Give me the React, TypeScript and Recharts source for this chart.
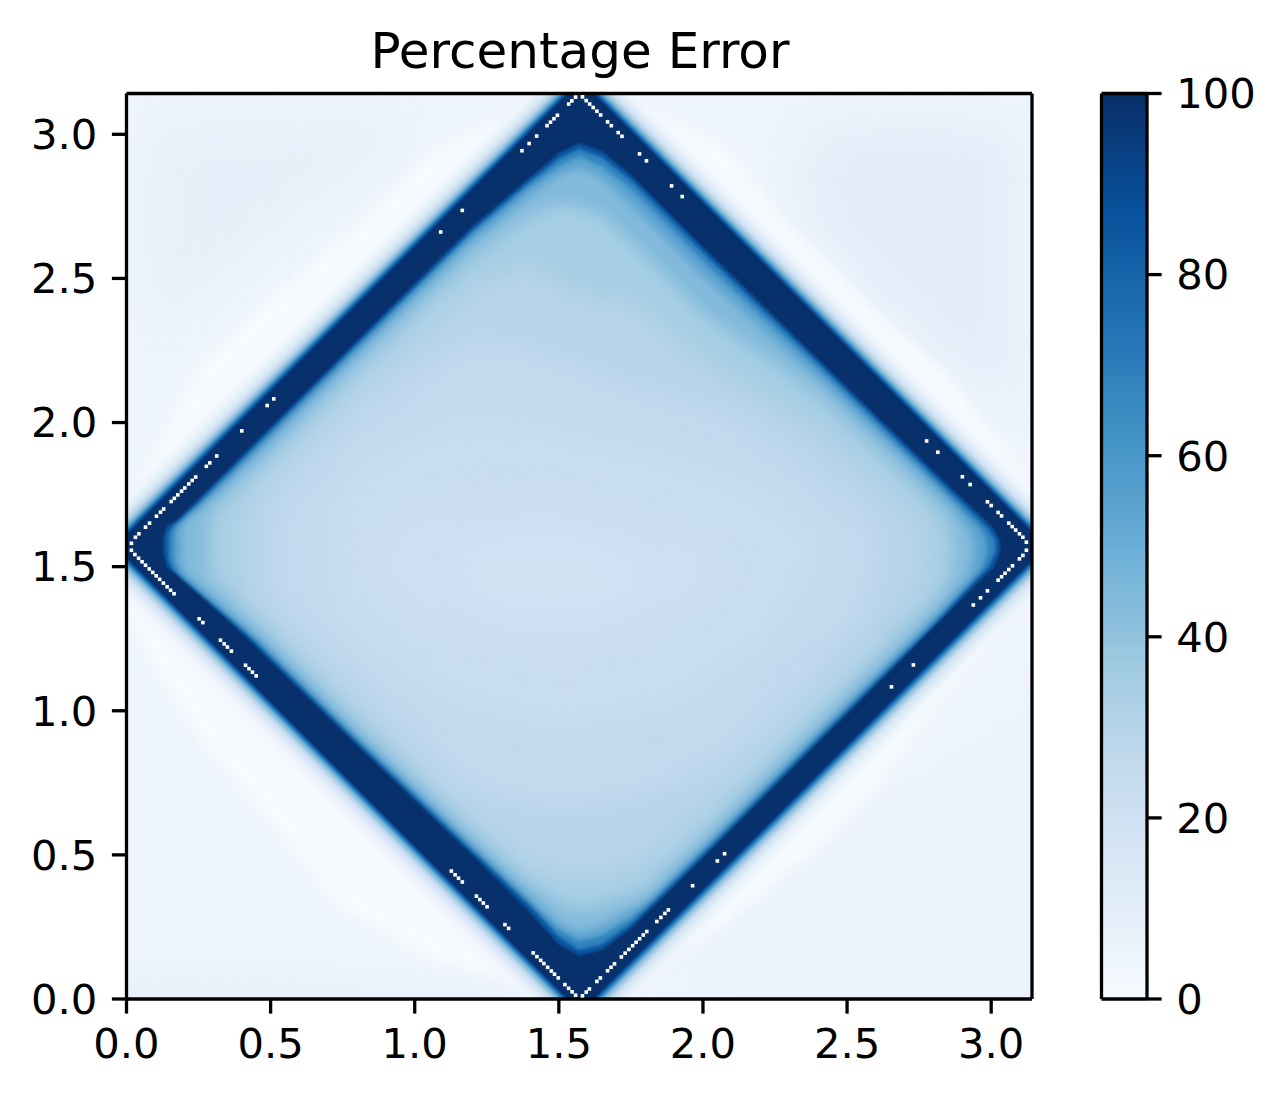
import React from 'react';
import { ComposedChart, Area, Scatter, XAxis, YAxis } from 'recharts';

const PI = 3.1416;
const FONT = '"DejaVu Sans", sans-serif';
const AXIS_TICKS = [0, 0.5, 1, 1.5, 2, 2.5, 3];
const BAR_TICKS = [0, 20, 40, 60, 80, 100];

// Field base and tinted corners: [x, low, high]
const fieldBase = [[0, 0, PI], [PI, 0, PI]];
const cornerTopLeft = [[0.08, 2.3, 3.05], [0.5, 2.65, 3.05], [0.95, 2.98, 3.07]];
const cornerTopRight = [[2.35, 2.7, 3.02], [2.8, 2.25, 3.05], [3.1, 2.05, 3.0]];
const cornerBottomRight = [[2.0, -0.3, 0.2], [2.6, -0.3, 0.62], [3.5, -0.3, 1.2]];
const cornerBottomLeft = [[-0.3, -0.3, 0.12], [0.7, -0.3, 0.1], [1.3, -0.3, 0.03]];

// Near-zero ridge that surrounds the diamond
const ridge = [[0, 1.35, 1.7], [0.08, 1.18, 1.86], [0.26, 0.9, 2.2], [0.49, 0.63, 2.42], [0.74, 0.32, 2.63], [1.06, 0.14, 2.94], [1.36, 0.06, 3.08], [1.57, 0.02, 3.13], [1.68, 0.03, 3.11], [1.85, 0.12, 3.07], [2.08, 0.26, 2.95], [2.26, 0.42, 2.72], [2.43, 0.55, 2.56], [2.6, 0.74, 2.38], [2.83, 1.05, 2.18], [3.0, 1.25, 1.97], [3.1416, 1.48, 1.78]];

// Outer edge of the band, one contour per error level
const outer5 = [[0, 1.391, 1.751], [1.391, 0, PI], [1.761, 0, PI], [PI, 1.381, 1.761]];
const outer9 = [[0, 1.421, 1.721], [1.421, 0, PI], [1.731, 0, PI], [PI, 1.411, 1.731]];
const outer15 = [[0, 1.446, 1.696], [1.446, 0, PI], [1.706, 0, PI], [PI, 1.436, 1.706]];
const outer25 = [[0, 1.466, 1.676], [1.466, 0, PI], [1.686, 0, PI], [PI, 1.456, 1.686]];
const outer37 = [[0, 1.481, 1.661], [1.481, 0, PI], [1.671, 0, PI], [PI, 1.471, 1.671]];
const outer50 = [[0, 1.496, 1.646], [1.496, 0, PI], [1.656, 0, PI], [PI, 1.486, 1.656]];
const outer62 = [[0, 1.506, 1.636], [1.506, 0, PI], [1.646, 0, PI], [PI, 1.496, 1.646]];
const outer75 = [[0, 1.515, 1.627], [1.515, 0, PI], [1.637, 0, PI], [PI, 1.505, 1.637]];
const outer88 = [[0, 1.523, 1.619], [1.523, 0, PI], [1.629, 0, PI], [PI, 1.513, 1.629]];
const outer100 = [[0, 1.531, 1.611], [1.531, 0, PI], [1.621, 0, PI], [PI, 1.521, 1.621]];

// Inner contours, falling towards the centre of the diamond
const inner92 = [[0.128, 1.55, 1.6], [0.14, 1.5, 1.64], [0.18, 1.47, 1.665], [0.4, 1.27, 1.886], [0.8, 0.88, 2.285], [1.2, 0.5, 2.68], [1.4, 0.3, 2.85], [1.5, 0.19, 2.935], [1.57, 0.15, 2.97], [1.65, 0.17, 2.94], [1.75, 0.245, 2.86], [2.0, 0.49, 2.61], [2.4, 0.89, 2.22], [2.8, 1.29, 1.83], [2.95, 1.44, 1.69], [3.01, 1.5, 1.63], [3.03, 1.55, 1.59]];
const inner75 = [[0.145, 1.53, 1.61], [0.16, 1.49, 1.64], [0.2, 1.455, 1.67], [0.4, 1.285, 1.87], [0.8, 0.895, 2.27], [1.2, 0.515, 2.665], [1.4, 0.325, 2.835], [1.5, 0.215, 2.915], [1.57, 0.17, 2.95], [1.65, 0.19, 2.92], [1.75, 0.26, 2.84], [2.0, 0.505, 2.59], [2.4, 0.905, 2.205], [2.8, 1.3, 1.815], [2.93, 1.44, 1.69], [2.99, 1.5, 1.63], [3.015, 1.55, 1.59]];
const inner60 = [[0.165, 1.52, 1.62], [0.185, 1.48, 1.65], [0.23, 1.44, 1.685], [0.45, 1.25, 1.905], [0.8, 0.91, 2.255], [1.2, 0.53, 2.65], [1.4, 0.34, 2.82], [1.5, 0.24, 2.89], [1.57, 0.2, 2.925], [1.65, 0.22, 2.89], [1.75, 0.28, 2.81], [2.0, 0.52, 2.56], [2.4, 0.92, 2.185], [2.8, 1.315, 1.795], [2.91, 1.43, 1.685], [2.965, 1.49, 1.63], [2.985, 1.54, 1.59]];
const inner48 = [[0.19, 1.51, 1.63], [0.21, 1.47, 1.67], [0.26, 1.43, 1.7], [0.45, 1.27, 1.88], [0.8, 0.925, 2.23], [1.2, 0.55, 2.625], [1.4, 0.36, 2.79], [1.5, 0.26, 2.86], [1.57, 0.23, 2.885], [1.65, 0.25, 2.85], [1.8, 0.34, 2.71], [2.0, 0.54, 2.51], [2.4, 0.94, 2.15], [2.75, 1.285, 1.82], [2.87, 1.41, 1.7], [2.925, 1.47, 1.63], [2.94, 1.53, 1.59]];
const inner38 = [[0.28, 1.48, 1.66], [0.3, 1.44, 1.7], [0.36, 1.4, 1.75], [0.55, 1.21, 1.94], [0.8, 0.96, 2.19], [1.2, 0.59, 2.58], [1.4, 0.4, 2.72], [1.5, 0.33, 2.76], [1.57, 0.3, 2.75], [1.65, 0.32, 2.72], [1.8, 0.37, 2.58], [2.0, 0.57, 2.38], [2.4, 0.97, 2.1], [2.7, 1.27, 1.82], [2.82, 1.39, 1.7], [2.865, 1.47, 1.63], [2.87, 1.53, 1.59]];
const inner32 = [[0.38, 1.45, 1.68], [0.42, 1.38, 1.74], [0.5, 1.32, 1.82], [0.8, 1.01, 2.13], [1.2, 0.61, 2.48], [1.4, 0.45, 2.55], [1.57, 0.42, 2.45], [1.75, 0.44, 2.42], [2.0, 0.63, 2.22], [2.4, 1.03, 1.98], [2.6, 1.23, 1.82], [2.72, 1.36, 1.71], [2.78, 1.47, 1.62], [2.785, 1.53, 1.58]];
const inner27 = [[0.5, 1.42, 1.68], [0.56, 1.32, 1.78], [0.8, 1.1, 2.03], [1.2, 0.72, 2.3], [1.45, 0.66, 2.25], [1.57, 0.66, 2.2], [1.8, 0.7, 2.12], [2.1, 0.85, 2.03], [2.4, 1.15, 1.82], [2.55, 1.32, 1.7], [2.62, 1.5, 1.6]];
const inner23 = [[0.7, 1.43, 1.66], [0.8, 1.28, 1.83], [1.1, 1.05, 2.0], [1.4, 0.96, 2.0], [1.57, 0.95, 1.95], [1.9, 1.02, 1.88], [2.2, 1.22, 1.77], [2.4, 1.52, 1.6]];
const inner20 = [[0.88, 1.45, 1.6], [1.05, 1.3, 1.72], [1.3, 1.22, 1.74], [1.57, 1.2, 1.72], [1.85, 1.28, 1.65], [2.05, 1.45, 1.55]];
const inner18 = [[1.15, 1.45, 1.55], [1.3, 1.36, 1.6], [1.5, 1.34, 1.62], [1.7, 1.38, 1.55], [1.8, 1.45, 1.5]];

// Cells that came out blank (NaN) along the diamond: [x, y]
const blankTopLeft = [[0.031, 1.602], [0.043, 1.614], [0.066, 1.637], [0.08, 1.651], [0.104, 1.675], [0.118, 1.689], [0.129, 1.7], [0.155, 1.726], [0.166, 1.737], [0.178, 1.749], [0.191, 1.762], [0.202, 1.773], [0.216, 1.787], [0.228, 1.799], [0.24, 1.811], [0.277, 1.848], [0.289, 1.86], [0.313, 1.884], [0.4, 1.971], [0.488, 2.059], [0.511, 2.082], [1.09, 2.661], [1.165, 2.736], [1.372, 2.943], [1.397, 2.968], [1.423, 2.994], [1.459, 3.03], [1.471, 3.042], [1.483, 3.054], [1.495, 3.066], [1.534, 3.105], [1.545, 3.116], [1.558, 3.129]];
const blankTopRight = [[1.582, 3.13], [1.595, 3.117], [1.607, 3.105], [1.619, 3.093], [1.632, 3.08], [1.645, 3.067], [1.669, 3.043], [1.682, 3.03], [1.706, 3.006], [1.719, 2.993], [1.78, 2.932], [1.804, 2.908], [1.891, 2.821], [1.928, 2.784], [2.776, 1.936], [2.815, 1.897], [2.9, 1.812], [2.927, 1.785], [2.987, 1.725], [3.0, 1.712], [3.024, 1.688], [3.036, 1.676], [3.061, 1.651], [3.073, 1.639], [3.085, 1.627], [3.098, 1.614], [3.11, 1.602], [3.122, 1.585]];
const blankBottomRight = [[3.122, 1.557], [3.11, 1.539], [3.098, 1.527], [3.074, 1.503], [3.061, 1.49], [3.048, 1.477], [3.036, 1.465], [3.024, 1.453], [2.987, 1.416], [2.963, 1.392], [2.938, 1.367], [2.73, 1.159], [2.654, 1.083], [2.075, 0.504], [2.05, 0.479], [1.964, 0.393], [1.88, 0.309], [1.868, 0.297], [1.854, 0.283], [1.84, 0.269], [1.805, 0.234], [1.793, 0.222], [1.78, 0.209], [1.768, 0.197], [1.756, 0.185], [1.743, 0.172], [1.73, 0.159], [1.717, 0.146], [1.693, 0.122], [1.681, 0.11], [1.669, 0.098], [1.644, 0.073], [1.632, 0.061], [1.606, 0.035], [1.595, 0.024], [1.582, 0.011]];
const blankBottomLeft = [[0.017, 1.581], [0.017, 1.557], [0.029, 1.542], [0.042, 1.529], [0.054, 1.517], [0.066, 1.505], [0.079, 1.492], [0.091, 1.48], [0.103, 1.468], [0.115, 1.456], [0.128, 1.443], [0.141, 1.43], [0.153, 1.418], [0.165, 1.406], [0.252, 1.319], [0.265, 1.306], [0.326, 1.245], [0.339, 1.232], [0.35, 1.221], [0.364, 1.207], [0.413, 1.158], [0.425, 1.146], [0.437, 1.134], [0.45, 1.121], [1.127, 0.444], [1.14, 0.431], [1.152, 0.419], [1.165, 0.406], [1.214, 0.357], [1.226, 0.345], [1.238, 0.333], [1.251, 0.32], [1.313, 0.258], [1.326, 0.245], [1.411, 0.16], [1.424, 0.147], [1.437, 0.134], [1.448, 0.123], [1.461, 0.11], [1.474, 0.097], [1.485, 0.086], [1.498, 0.073], [1.521, 0.05], [1.534, 0.037], [1.546, 0.025], [1.558, 0.013]];

// [rows, colour, softness in px], painted in this order
const LAYERS: [number[][], string, number][] = [
  [fieldBase, '#eff5fc', 0],
  [cornerTopLeft, '#e6eff9', 24],
  [cornerTopRight, '#e2ecf8', 26],
  [cornerBottomRight, '#eaf2fb', 26],
  [cornerBottomLeft, '#e9f1fb', 9],
  [ridge, '#f7fbff', 7],
  [outer5, '#f0f6fd', 4],
  [outer9, '#e4eff9', 2],
  [outer15, '#d8e7f5', 1.2],
  [outer25, '#c6dbef', 1],
  [outer37, '#9fcae1', 0.8],
  [outer50, '#6baed6', 0.8],
  [outer62, '#4292c6', 0.7],
  [outer75, '#2171b5', 0.7],
  [outer88, '#08519c', 0.6],
  [outer100, '#08306b', 0.6],
  [inner92, '#0b559f', 1],
  [inner75, '#3083be', 1.5],
  [inner60, '#5aa2cf', 2.2],
  [inner48, '#82badb', 4],
  [inner38, '#a6cee4', 8],
  [inner32, '#b7d4ea', 12],
  [inner27, '#c3d9ee', 16],
  [inner23, '#c9ddf0', 16],
  [inner20, '#cddff1', 16],
  [inner18, '#d1e2f3', 14],
];

const BLUES = ['#f7fbff', '#deebf7', '#c6dbef', '#9ecae1', '#6baed6', '#4292c6', '#2171b5', '#08519c', '#08306b'];
const BAR_LEVELS = Array.from({ length: 128 }, (_, i) => 100 - (i * 100) / 128);

function blues(v: number) {
  const t = (Math.min(99.999, v) / 100) * (BLUES.length - 1);
  const i = Math.floor(t);
  const f = t - i;
  const c = (s: string, k: number) => parseInt(s.slice(k, k + 2), 16);
  const mix = (k: number) => Math.round(c(BLUES[i], k) * (1 - f) + c(BLUES[i + 1], k) * f);
  return `rgb(${mix(1)},${mix(3)},${mix(5)})`;
}

const toRows = (rows: number[][]) => rows.map(([x, lo, hi]) => ({ x, r: [lo, hi] }));
const toPoints = (rows: number[][]) => rows.map(([x, y]) => ({ x, y }));
const blanks = [...blankTopLeft, ...blankTopRight, ...blankBottomRight, ...blankBottomLeft];

const tickStyle = { fontSize: 41.7, fontFamily: FONT, fill: '#000' };
const line = { stroke: '#000', strokeWidth: 3.3 };

const Blank = (p: any) => <rect x={p.cx - 1.8} y={p.cy - 1.8} width={3.6} height={3.6} fill="#fff" />;

export default function App() {
  return (
    <div style={{ position: 'absolute', left: 0, top: 0, width: 1285, height: 1098, background: '#fff', overflow: 'hidden' }}>
      <div style={{ position: 'absolute', left: 0, width: 1160, textAlign: 'center', top: 21, fontFamily: FONT, fontSize: 50, lineHeight: '60px', color: '#000' }}>
        Percentage Error
      </div>
      <div style={{ position: 'absolute', left: 0, top: 0 }}>
        <ComposedChart width={1285} height={1098} margin={{ top: 92.5, left: 26.5, right: 252, bottom: 0 }} data={[]}>
          {LAYERS.map(([rows, color, soft], i) => (
            <Area key={i} data={toRows(rows)} dataKey="r" type="linear" fill={color} fillOpacity={1} stroke="none"
              dot={false} activeDot={false} isAnimationActive={false} style={soft ? { filter: `blur(${soft}px)` } : undefined} />
          ))}
          <Scatter data={toPoints(blanks)} dataKey="y" shape={Blank} isAnimationActive={false} />
          <XAxis dataKey="x" type="number" domain={[0, Math.PI]} allowDataOverflow ticks={AXIS_TICKS} interval={0} height={99}
            tick={tickStyle} tickSize={14.6} tickMargin={14.6} tickFormatter={(v) => v.toFixed(1)} axisLine={line} tickLine={line} />
          <YAxis type="number" domain={[0, Math.PI]} allowDataOverflow ticks={AXIS_TICKS} interval={0} width={100}
            tick={tickStyle} tickSize={14.6} tickMargin={14.6} tickFormatter={(v) => v.toFixed(1)} axisLine={line} tickLine={line} />
          <XAxis xAxisId="top" orientation="top" type="number" domain={[0, Math.PI]} allowDataOverflow height={1} tick={false} tickLine={false} axisLine={line} />
          <YAxis yAxisId="side" orientation="right" type="number" domain={[0, Math.PI]} allowDataOverflow width={1} tick={false} tickLine={false} axisLine={line} />
        </ComposedChart>
      </div>
      <div style={{ position: 'absolute', left: 1090, top: 0 }}>
        <ComposedChart width={195} height={1098} margin={{ top: 92.5, left: 10.5, right: 0, bottom: 0 }} data={[]}>
          {BAR_LEVELS.map((v) => (
            <Area key={v} yAxisId="bar" data={[{ x: 0, r: [0, v] }, { x: 1, r: [0, v] }]} dataKey="r" type="linear" fill={blues(v)} fillOpacity={1}
              stroke="none" dot={false} activeDot={false} isAnimationActive={false} />
          ))}
          <XAxis dataKey="x" type="number" domain={[0, 1]} allowDataOverflow height={99} tick={false} tickLine={false} axisLine={line} />
          <XAxis xAxisId="top" orientation="top" type="number" domain={[0, 1]} allowDataOverflow height={1} tick={false} tickLine={false} axisLine={line} />
          <YAxis type="number" domain={[0, 100]} allowDataOverflow width={1} tick={false} tickLine={false} axisLine={line} />
          <YAxis yAxisId="bar" orientation="right" type="number" domain={[0, 100]} allowDataOverflow ticks={BAR_TICKS} interval={0} width={138}
            tick={tickStyle} tickSize={14.6} tickMargin={14.6} axisLine={line} tickLine={line} />
        </ComposedChart>
      </div>
    </div>
  );
}
